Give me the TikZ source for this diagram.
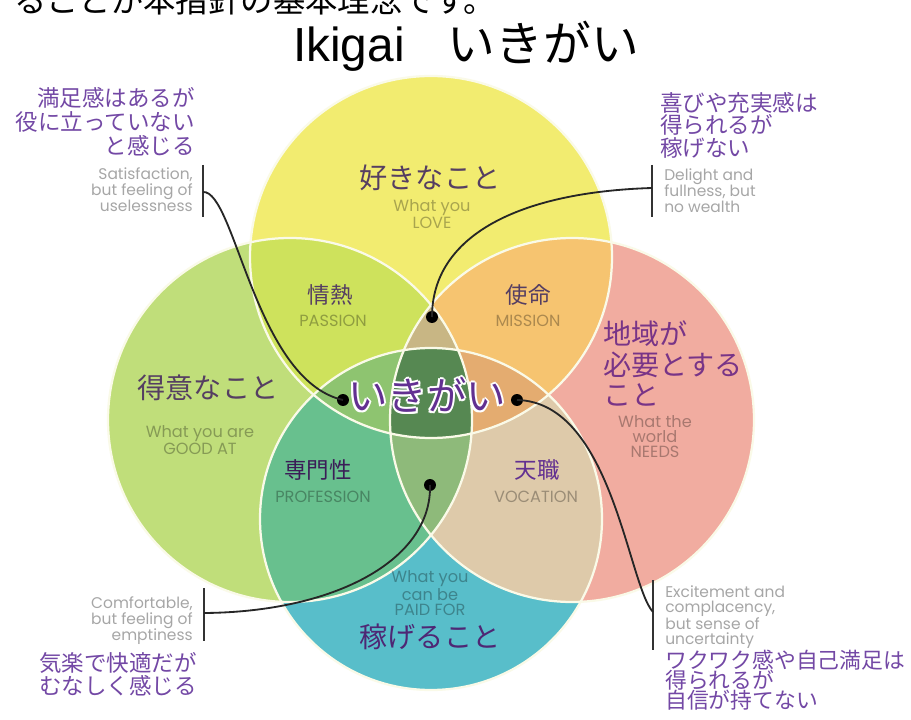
\documentclass[tikz,border=0pt]{standalone}
\usepackage{fontspec}
\setmainfont{Noto Sans CJK JP}
\newfontfamily\engfont{Poppins}
\newfontfamily\titlefont{Liberation Sans}
\usetikzlibrary{positioning}

\definecolor{loveYellow}{RGB}{242,236,112}
\definecolor{goodGreen}{RGB}{192,222,122}
\definecolor{needPink}{RGB}{241,172,160}
\definecolor{paidBlue}{RGB}{88,190,202}
\definecolor{passionMix}{RGB}{206,226,92}
\definecolor{missionMix}{RGB}{246,196,112}
\definecolor{professionMix}{RGB}{104,192,142}
\definecolor{vocationMix}{RGB}{222,202,170}
\definecolor{topMix}{RGB}{200,182,132}
\definecolor{leftMix}{RGB}{142,196,112}
\definecolor{rightMix}{RGB}{228,172,112}
\definecolor{bottomMix}{RGB}{142,186,122}
\definecolor{ikigaiMix}{RGB}{86,136,82}
\definecolor{rimWhite}{RGB}{250,250,232}
\definecolor{titlePurple}{RGB}{85,62,98}
\definecolor{notePurple}{RGB}{115,72,165}
\definecolor{worldPurple}{RGB}{120,52,135}
\definecolor{centerPurple}{RGB}{98,48,145}

\tikzstyle{areaname} = [font=\fontsize{20}{22}\selectfont, text=titlePurple, inner sep=0pt]
\tikzstyle{mixname} = [font=\fontsize{16}{17}\selectfont, text=titlePurple, inner sep=0pt]
\tikzstyle{engname} = [font=\engfont\fontsize{11.5}{10.7}\selectfont, text=black, text opacity=0.3, align=center, inner sep=0pt]
\tikzstyle{notejp} = [font=\fontsize{16}{17}\selectfont, text=notePurple, inner sep=0pt]
\tikzstyle{noteen} = [font=\engfont\fontsize{11}{11.4}\selectfont, text=black, text opacity=0.35, inner sep=0pt]
\tikzstyle{centerword} = [font=\fontsize{28}{30}\selectfont, inner sep=0pt]
\tikzstyle{linkdot} = [circle, fill=black, minimum size=8.5pt, inner sep=0pt]
\tikzstyle{linkline} = [line width=1.3pt, black!85]
\tikzstyle{notebar} = [line width=2pt, black!80]
\tikzstyle{rim} = [line width=1.6pt, rimWhite]

\begin{document}
\begin{tikzpicture}[x=0.025cm, y=-0.025cm]
    \useasboundingbox (0,0) rectangle (911,720);
    \fill[white] (0,0) rectangle (911,720);

    % circle centres
    \coordinate (cLove) at (431,257);
    \coordinate (cGood) at (290,420);
    \coordinate (cNeed) at (572,420);
    \coordinate (cPaid) at (431,519);

    % single areas
    \fill[loveYellow] (cLove) circle [radius=181];
    \fill[goodGreen] (cGood) circle [radius=182];
    \fill[needPink] (cNeed) circle [radius=182];
    \fill[paidBlue] (cPaid) circle [radius=171];

    % two-way overlaps
    \begin{scope}
        \clip (cLove) circle [radius=181];
        \fill[passionMix] (cGood) circle [radius=182];
        \fill[missionMix] (cNeed) circle [radius=182];
    \end{scope}
    \begin{scope}
        \clip (cPaid) circle [radius=171];
        \fill[professionMix] (cGood) circle [radius=182];
        \fill[vocationMix] (cNeed) circle [radius=182];
    \end{scope}

    % three-way overlaps
    \begin{scope}
        \clip (cLove) circle [radius=181];
        \clip (cGood) circle [radius=182];
        \fill[topMix] (cNeed) circle [radius=182];
    \end{scope}
    \begin{scope}
        \clip (cLove) circle [radius=181];
        \clip (cGood) circle [radius=182];
        \fill[leftMix] (cPaid) circle [radius=171];
    \end{scope}
    \begin{scope}
        \clip (cLove) circle [radius=181];
        \clip (cNeed) circle [radius=182];
        \fill[rightMix] (cPaid) circle [radius=171];
    \end{scope}
    \begin{scope}
        \clip (cGood) circle [radius=182];
        \clip (cNeed) circle [radius=182];
        \fill[bottomMix] (cPaid) circle [radius=171];
    \end{scope}

    % all four
    \begin{scope}
        \clip (cLove) circle [radius=181];
        \clip (cGood) circle [radius=182];
        \clip (cNeed) circle [radius=182];
        \fill[ikigaiMix] (cPaid) circle [radius=171];
    \end{scope}

    \foreach \c/\r in {cLove/181, cGood/182, cNeed/182, cPaid/171}
        \draw[rim] (\c) circle [radius=\r];

    % heading
    \node[anchor=base west, font=\fontsize{23}{24}\selectfont, inner sep=0pt] (introline) at (14,13) {ることが本指針の基本理念です。};
    \node[font=\fontsize{34}{36}\selectfont, inner sep=0pt] (title) at (466,46) {{\titlefont Ikigai}\hspace{0.9em}いきがい};

    % area labels
    \node[areaname] (love) at (430,178) {好きなこと};
    \node[engname] (loveEn) at (432,214) {What you\\LOVE};
    \node[areaname] (good) at (208,388) {得意なこと};
    \node[engname] (goodEn) at (200,440) {What you are\\GOOD AT};
    \node[areaname, text=worldPurple, anchor=north west, align=left, font=\fontsize{20}{22}\selectfont] (need) at (603,320) {地域が\\必要とする\\こと};
    \node[engname] (needEn) at (655,437) {What the\\world\\NEEDS};
    \node[engname] (paidEn) at (430,593) {What you\\can be\\PAID FOR};
    \node[areaname, text=centerPurple!80!black] (paid) at (430,637) {稼げること};

    \node[mixname] (passion) at (330,295) {情熱};
    \node[engname] (passionEn) at (333,321) {PASSION};
    \node[mixname] (mission) at (528,295) {使命};
    \node[engname] (missionEn) at (528,321) {MISSION};
    \node[mixname, text=centerPurple!60!black] (profession) at (318,470) {専門性};
    \node[engname] (professionEn) at (323,497) {PROFESSION};
    \node[mixname, text=centerPurple] (vocation) at (537,470) {天職};
    \node[engname] (vocationEn) at (536,497) {VOCATION};

    % centre word with white halo
    \foreach \a in {0,45,...,315}
        \node[centerword, text=white, shift={(\a:2)}] (halo\a) at (427,395) {いきがい};
    \node[centerword, text=centerPurple] (ikigai) at (427,395) {いきがい};

    % dots
    \node[linkdot] (dotLeft) at (343,400) {};
    \node[linkdot] (dotTop) at (432,317) {};
    \node[linkdot] (dotRight) at (517,400) {};
    \node[linkdot] (dotBottom) at (430,485) {};

    % notes
    \node[notejp, anchor=north east, align=right] (noteTLjp) at (195,87) {満足感はあるが\\役に立っていない\\と感じる};
    \node[noteen, anchor=north east, align=right] (noteTLen) at (193,167) {Satisfaction,\\but feeling of\\uselessness};
    \node[notejp, anchor=north west, align=left, font=\fontsize{16}{16}\selectfont] (noteTRjp) at (660,92) {喜びや充実感は\\得られるが\\稼げない};
    \node[noteen, anchor=north west, align=left] (noteTRen) at (664,168) {Delight and\\fullness, but\\no wealth};
    \node[noteen, anchor=north east, align=right] (noteBLen) at (193,596) {Comfortable,\\but feeling of\\emptiness};
    \node[notejp, anchor=north east, align=right, font=\fontsize{16}{16.4}\selectfont] (noteBLjp) at (197,652) {気楽で快適だが\\むなしく感じる};
    \node[noteen, anchor=north west, align=left, font=\engfont\fontsize{11}{10.7}\selectfont] (noteBRen) at (665,585) {Excitement and\\complacency,\\but sense of\\uncertainty};
    \node[notejp, anchor=north west, align=left, font={\fontsize{15.5}{14.2}\selectfont\lineskiplimit=-8pt\relax}] (noteBRjp) at (665,650) {ワクワク感や自己満足は\\得られるが\\自信が持てない};

    % brackets
    \coordinate (barTLa) at (203,165);
    \coordinate (barTLb) at (203,217);
    \coordinate (barTLm) at (203,192);
    \coordinate (barTRa) at (652,165);
    \coordinate (barTRb) at (652,217);
    \coordinate (barTRm) at (652,188);
    \coordinate (barBLa) at (204,588);
    \coordinate (barBLb) at (204,641);
    \coordinate (barBLm) at (204,613);
    \coordinate (barBRa) at (653,580);
    \coordinate (barBRb) at (653,650);
    \coordinate (barBRm) at (653,612);
    \draw[notebar] (barTLa) -- (barTLb);
    \draw[notebar] (barTRa) -- (barTRb);
    \draw[notebar] (barBLa) -- (barBLb);
    \draw[notebar] (barBRa) -- (barBRb);

    % connectors
    \draw[linkline] (barTLm) .. controls (235,190) and (255,380) .. (dotLeft.center);
    \draw[linkline] (barTRm) .. controls (520,192) and (432,235) .. (dotTop.center);
    \draw[linkline] (barBLm) .. controls (335,612) and (432,560) .. (dotBottom.center);
    \draw[linkline] (dotRight.center) .. controls (612,402) and (628,585) .. (barBRm);
\end{tikzpicture}
\end{document}
